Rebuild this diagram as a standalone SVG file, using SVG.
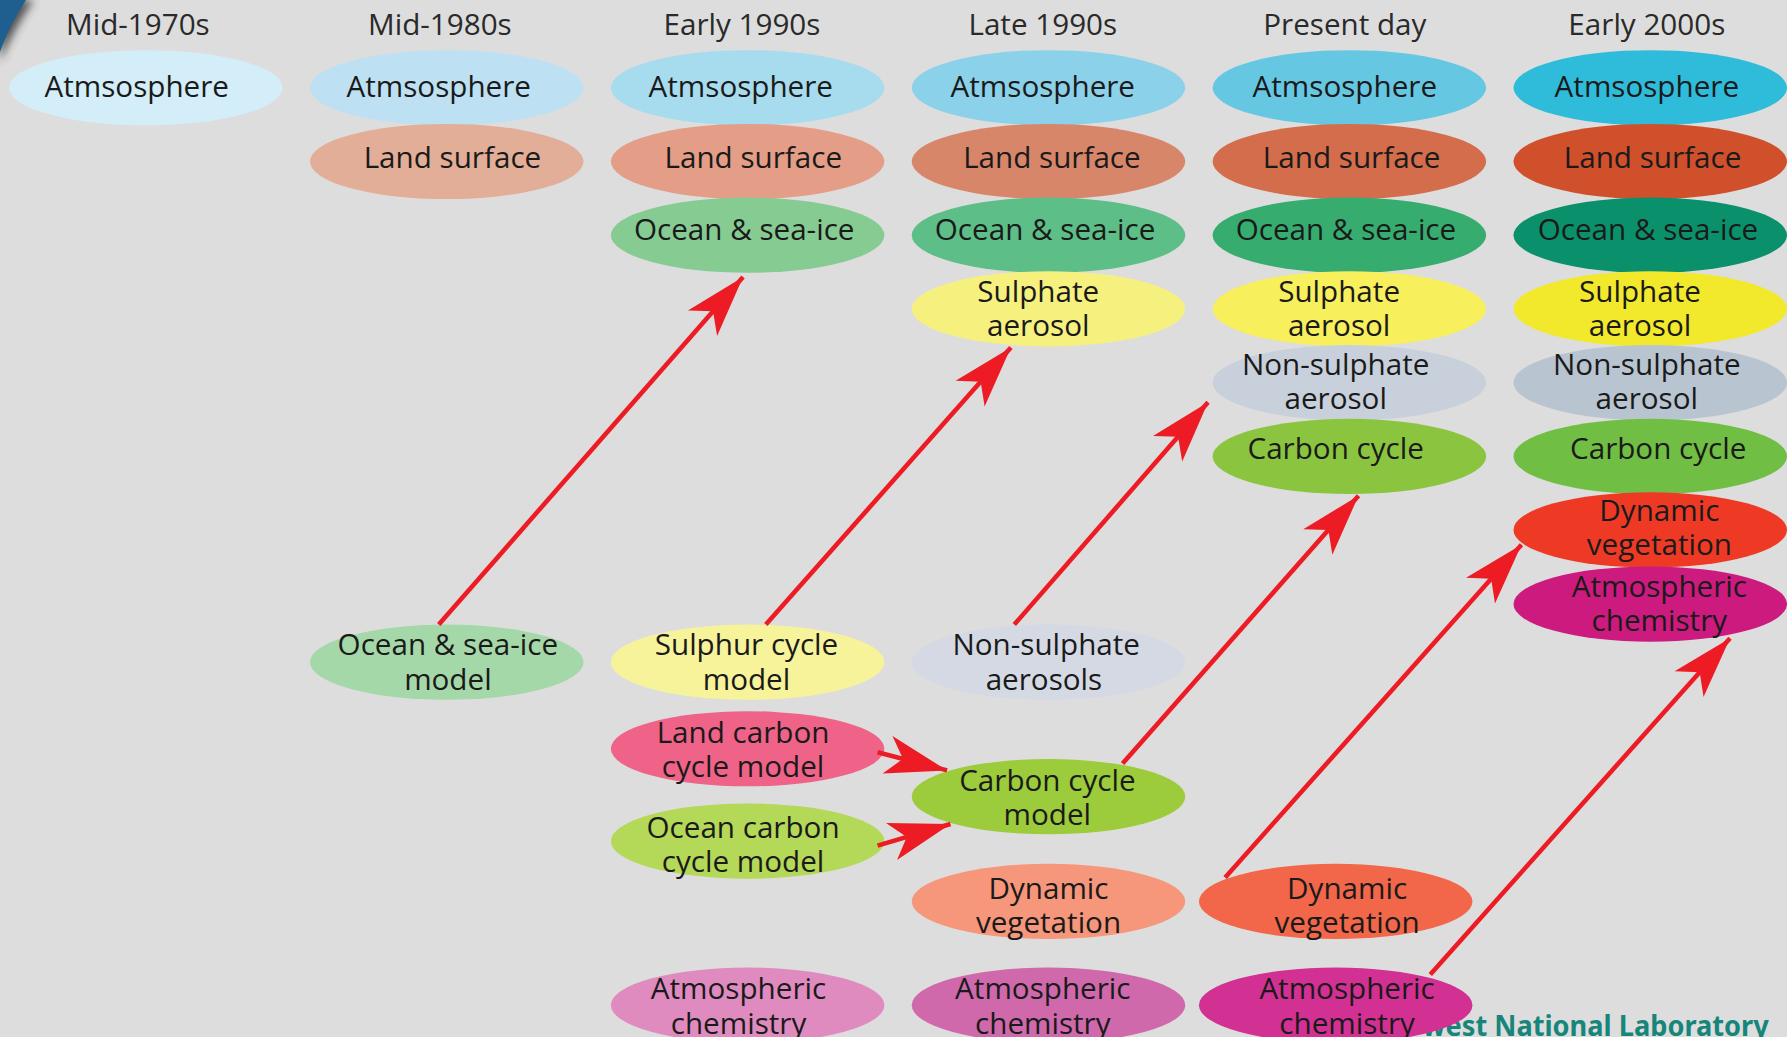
<svg xmlns="http://www.w3.org/2000/svg" width="1787" height="1037" viewBox="0 0 1787 1037">
<style>
.t{font-family:"Open Sans","Noto Sans",sans-serif;font-size:26px;fill:#1a1a1a;text-anchor:middle}
.h{font-family:"Open Sans","Noto Sans",sans-serif;font-size:26px;fill:#2a2a2a;text-anchor:middle}
.c{stroke:#ed1c24;stroke-width:4;fill:none;marker-end:url(#ah)}
.f{font-family:"Noto Sans","Open Sans",sans-serif;font-weight:bold;font-size:25px;fill:#16857a}
</style>
<defs>
<marker id="ah" markerUnits="userSpaceOnUse" markerWidth="60" markerHeight="40" viewBox="-56 -20 60 40" refX="0" refY="0" orient="auto">
<path d="M0,0 L-54,-17 L-40,0 L-54,17 Z" fill="#ed1c24"/>
</marker>
<filter id="blur" x="-1" y="-1" width="3" height="3"><feGaussianBlur stdDeviation="4"/></filter>
</defs>
<rect width="1787" height="1037" fill="#dddddd"/>
<path d="M0,0 L34,0 C24,14 12,34 0,62 Z" fill="#333" filter="url(#blur)" opacity="0.8"/>
<path d="M0,0 L26,0 C18,12 8,30 0,52 Z" fill="#1e5f8f"/>
<g transform="scale(1.13967)">
<text class="f" x="1248" y="909" textLength="304" lengthAdjust="spacingAndGlyphs">west National Laboratory</text>
<g id="titles">
<text class="h" x="121" y="31">Mid-1970s</text>
<text class="h" x="386" y="31">Mid-1980s</text>
<text class="h" x="651" y="31">Early 1990s</text>
<text class="h" x="915" y="31">Late 1990s</text>
<text class="h" x="1180" y="31">Present day</text>
<text class="h" x="1445" y="31">Early 2000s</text>
</g>
<g id="n-atm1"><ellipse cx="128" cy="77" rx="120" ry="33" fill="#d3eef8"/><text class="t" x="120" y="85">Atmsosphere</text></g>
<g id="n-atm2"><ellipse cx="392" cy="77" rx="120" ry="33" fill="#bde1f2"/><text class="t" x="385" y="85">Atmsosphere</text></g>
<g id="n-land2"><ellipse cx="392" cy="141.7" rx="120" ry="33" fill="#e2ae97"/><text class="t" x="397" y="147">Land surface</text></g>
<g id="n-atm3"><ellipse cx="656" cy="77" rx="120" ry="33" fill="#a6dcee"/><text class="t" x="650" y="85">Atmsosphere</text></g>
<g id="n-land3"><ellipse cx="656" cy="141.7" rx="120" ry="33" fill="#e49d86"/><text class="t" x="661" y="147">Land surface</text></g>
<g id="n-ocean3"><ellipse cx="656" cy="206.4" rx="120" ry="33" fill="#86cb92"/><text class="t" x="653" y="211">Ocean &amp; sea-ice</text></g>
<g id="n-atm4"><ellipse cx="920" cy="77" rx="120" ry="33" fill="#8bd1ea"/><text class="t" x="915" y="85">Atmsosphere</text></g>
<g id="n-land4"><ellipse cx="920" cy="141.7" rx="120" ry="33" fill="#d8866a"/><text class="t" x="923" y="147">Land surface</text></g>
<g id="n-ocean4"><ellipse cx="920" cy="206.4" rx="120" ry="33" fill="#5dbe87"/><text class="t" x="917" y="211">Ocean &amp; sea-ice</text></g>
<g id="n-sulph4"><ellipse cx="920" cy="271" rx="120" ry="33" fill="#f6f07f"/><text class="t" x="911" y="265">Sulphate</text><text class="t" x="911" y="295">aerosol</text></g>
<g id="n-atm5"><ellipse cx="1184" cy="77" rx="120" ry="33" fill="#66c7e3"/><text class="t" x="1180" y="85">Atmsosphere</text></g>
<g id="n-land5"><ellipse cx="1184" cy="141.7" rx="120" ry="33" fill="#d36d4b"/><text class="t" x="1186" y="147">Land surface</text></g>
<g id="n-ocean5"><ellipse cx="1184" cy="206.4" rx="120" ry="33" fill="#36ac6f"/><text class="t" x="1181" y="211">Ocean &amp; sea-ice</text></g>
<g id="n-sulph5"><ellipse cx="1184" cy="271" rx="120" ry="33" fill="#f7ef5c"/><text class="t" x="1175" y="265">Sulphate</text><text class="t" x="1175" y="295">aerosol</text></g>
<g id="n-nons5"><ellipse cx="1184" cy="335.8" rx="120" ry="33" fill="#c8d0db"/><text class="t" x="1172" y="329">Non-sulphate</text><text class="t" x="1172" y="359">aerosol</text></g>
<g id="n-carbon5"><ellipse cx="1184" cy="400.5" rx="120" ry="33" fill="#8bc53f"/><text class="t" x="1172" y="403">Carbon cycle</text></g>
<g id="n-atm6"><ellipse cx="1448" cy="77" rx="120" ry="33" fill="#2ebcda"/><text class="t" x="1445" y="85">Atmsosphere</text></g>
<g id="n-land6"><ellipse cx="1448" cy="141.7" rx="120" ry="33" fill="#d0502b"/><text class="t" x="1450" y="147">Land surface</text></g>
<g id="n-ocean6"><ellipse cx="1448" cy="206.4" rx="120" ry="33" fill="#0b906c"/><text class="t" x="1446" y="211">Ocean &amp; sea-ice</text></g>
<g id="n-sulph6"><ellipse cx="1448" cy="271" rx="120" ry="33" fill="#f2e92d"/><text class="t" x="1439" y="265">Sulphate</text><text class="t" x="1439" y="295">aerosol</text></g>
<g id="n-nons6"><ellipse cx="1448" cy="335.8" rx="120" ry="33" fill="#b8c4cf"/><text class="t" x="1445" y="329">Non-sulphate</text><text class="t" x="1445" y="359">aerosol</text></g>
<g id="n-carbon6"><ellipse cx="1448" cy="400.5" rx="120" ry="33" fill="#70bf44"/><text class="t" x="1455" y="403">Carbon cycle</text></g>
<g id="n-dynveg6"><ellipse cx="1448" cy="465" rx="120" ry="33" fill="#ee3a25"/><text class="t" x="1456" y="457">Dynamic</text><text class="t" x="1456" y="487">vegetation</text></g>
<g id="n-atmchem6"><ellipse cx="1448" cy="530" rx="120" ry="33" fill="#cc1a7e"/><text class="t" x="1456" y="524">Atmospheric</text><text class="t" x="1456" y="554">chemistry</text></g>
<g id="n-oceanmodel2"><ellipse cx="392" cy="581" rx="120" ry="33" fill="#a5d8a8"/><text class="t" x="393" y="575">Ocean &amp; sea-ice</text><text class="t" x="393" y="605">model</text></g>
<g id="n-sulphurmodel3"><ellipse cx="656" cy="581" rx="120" ry="33" fill="#f7f39b"/><text class="t" x="655" y="575">Sulphur cycle</text><text class="t" x="655" y="605">model</text></g>
<g id="n-nonsaer4"><ellipse cx="920" cy="581" rx="120" ry="33" fill="#d5d9e3"/><text class="t" x="918" y="575">Non-sulphate</text><text class="t" x="916" y="605">aerosols</text></g>
<g id="n-landcarbon3"><ellipse cx="656" cy="657" rx="120" ry="33" fill="#ef6389"/><text class="t" x="652" y="652">Land carbon</text><text class="t" x="652" y="682">cycle model</text></g>
<g id="n-oceancarbon3"><ellipse cx="656" cy="738" rx="120" ry="33" fill="#b4d857"/><text class="t" x="652" y="735">Ocean carbon</text><text class="t" x="652" y="765">cycle model</text></g>
<g id="n-carbonmodel4"><ellipse cx="920" cy="699" rx="120" ry="33" fill="#9ccb3b"/><text class="t" x="919" y="694">Carbon cycle</text><text class="t" x="919" y="724">model</text></g>
<g id="n-dynveg4"><ellipse cx="920" cy="791" rx="120" ry="33" fill="#f6967a"/><text class="t" x="920" y="789">Dynamic</text><text class="t" x="920" y="819">vegetation</text></g>
<g id="n-dynveg5"><ellipse cx="1172" cy="791" rx="120" ry="33" fill="#f26649"/><text class="t" x="1182" y="789">Dynamic</text><text class="t" x="1182" y="819">vegetation</text></g>
<g id="n-atmchem3"><ellipse cx="656" cy="882" rx="120" ry="33" fill="#e08bbf"/><text class="t" x="648" y="877">Atmospheric</text><text class="t" x="648" y="907">chemistry</text></g>
<g id="n-atmchem4"><ellipse cx="920" cy="882" rx="120" ry="33" fill="#cf69ac"/><text class="t" x="915" y="877">Atmospheric</text><text class="t" x="915" y="907">chemistry</text></g>
<g id="n-atmchem5"><ellipse cx="1172" cy="882" rx="120" ry="33" fill="#d23093"/><text class="t" x="1182" y="877">Atmospheric</text><text class="t" x="1182" y="907">chemistry</text></g>
<g id="connectors">
<path class="c" d="M385,548 L652,243"/>
<path class="c" d="M672,548 L887,305"/>
<path class="c" d="M890,548 L1060,353"/>
<path class="c" d="M985,670 L1192,435"/>
<path class="c" d="M1075,770 L1335,478"/>
<path class="c" d="M1255,855 L1518,560"/>
<path class="c" d="M770,660 L831,676"/>
<path class="c" d="M770,742 L834,723"/>
</g>
</g>
</svg>
